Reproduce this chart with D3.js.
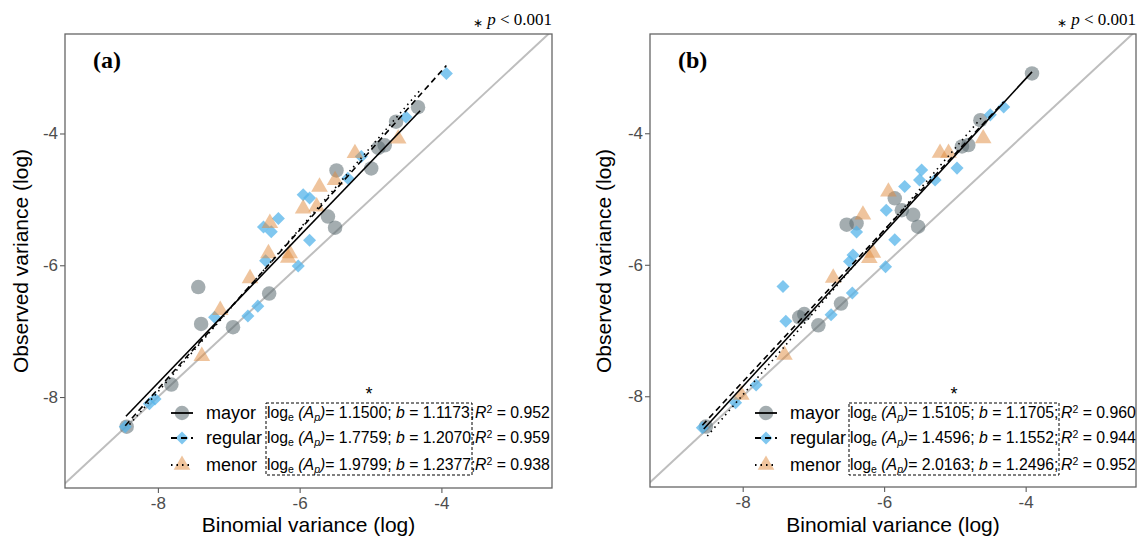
<!DOCTYPE html>
<html>
<head>
<meta charset="utf-8">
<script src="https://cdn.jsdelivr.net/npm/d3@7"></script>
<style>
  body { margin: 0; background: #fff; }
  svg { display: block; font-family: "Liberation Sans", Arial, sans-serif; }
  .tick text { fill: #4d4d4d; font-size: 17px; }
  .tick line { stroke: #4d4d4d; }
</style>
</head>
<body>
<svg id="chart" width="1140" height="539"></svg>
<script>
// ---- data (log scale) ----
var seriesNames = ["mayor", "regular", "menor"];
var xTicks = [-8, -6, -4];
var yTicks = [-8, -6, -4];
var panelLabels = ["(a)", "(b)"];

// panel (a)
var mayorA = [[-4.33,-3.60],[-4.64,-3.82],[-4.80,-4.18],[-4.89,-4.22],[-4.99,-4.53],[-5.48,-4.56],
  [-5.60,-5.26],[-5.50,-5.43],[-7.43,-6.33],[-7.39,-6.89],[-6.43,-6.43],[-6.94,-6.94],[-7.81,-7.81],[-8.44,-8.45]];
var regularA = [[-3.93,-3.09],[-4.50,-3.75],[-5.13,-4.35],[-5.32,-4.68],[-5.95,-4.93],[-5.86,-4.98],
  [-6.30,-5.29],[-6.51,-5.42],[-6.40,-5.49],[-5.86,-5.62],[-6.48,-5.93],[-6.02,-6.01],[-6.59,-6.62],
  [-6.73,-6.77],[-7.20,-6.79],[-8.04,-8.03],[-8.46,-8.45],[-8.12,-8.10]];
var menorA = [[-4.61,-4.08],[-5.22,-4.30],[-5.72,-4.81],[-5.50,-4.71],[-5.95,-5.14],[-5.76,-5.11],
  [-6.42,-5.36],[-6.44,-5.82],[-6.14,-5.82],[-6.16,-5.89],[-6.70,-6.20],[-7.12,-6.68],[-7.38,-7.38]];
var interceptA = [1.1500, 1.7759, 1.9799];
var slopeA = [1.1173, 1.2070, 1.2377];
var r2A = [0.952, 0.959, 0.938];
var fitRangeA = [[-8.45, -4.30], [-8.46, -3.93], [-8.40, -4.30]];

// panel (b)
var mayorB = [[-3.91,-3.09],[-4.64,-3.80],[-4.81,-4.18],[-4.90,-4.20],[-5.85,-4.99],[-5.75,-5.17],
  [-5.59,-5.24],[-5.52,-5.42],[-6.53,-5.39],[-6.39,-5.37],[-7.20,-6.80],[-7.13,-6.75],[-6.93,-6.92],
  [-6.61,-6.59],[-8.52,-8.46]];
var regularB = [[-4.31,-3.60],[-4.50,-3.72],[-4.97,-4.53],[-5.47,-4.56],[-5.50,-4.71],[-5.71,-4.81],
  [-5.97,-5.17],[-5.28,-4.71],[-6.39,-5.50],[-5.85,-5.62],[-7.43,-6.33],[-7.39,-6.86],[-6.45,-6.43],
  [-6.75,-6.76],[-5.98,-6.03],[-6.44,-5.85],[-6.49,-5.95],[-7.81,-7.83],[-8.10,-8.10],[-8.57,-8.48]];
var menorB = [[-4.60,-4.08],[-5.21,-4.30],[-5.09,-4.30],[-5.94,-4.89],[-6.30,-5.24],[-6.16,-5.82],
  [-6.21,-5.90],[-6.72,-6.20],[-7.41,-7.37],[-8.02,-7.98]];
var interceptB = [1.5105, 1.4596, 2.0163];
var slopeB = [1.1705, 1.1552, 1.2496];
var r2B = [0.960, 0.944, 0.952];
var fitRangeB = [[-8.55, -3.91], [-8.57, -4.31], [-8.50, -4.60]];

// ---- styles ----
var colors = ["#5a6a70", "#56B4E9", "#E08A3C"];
var opacities = [0.55, 0.75, 0.5];
var symbols = [d3.symbolCircle, d3.symbolSquare, d3.symbolTriangle];
var symSizes = [165, 85, 120];
var symRotate = [0, 45, 0];
var dashes = [null, "6,4", "1.5,4"];

var svg = d3.select("#chart");

var panels = [
  { left: 65, right: 552, top: 34, bottom: 488, data: [mayorA, regularA, menorA],
    icpt: interceptA, slope: slopeA, r2: r2A, range: fitRangeA,
    keyX: 182, labelX: 206, boxL: 266, boxR: 472, rX: 475, yTitleX: 28 },
  { left: 650, right: 1136, top: 34, bottom: 487, data: [mayorB, regularB, menorB],
    icpt: interceptB, slope: slopeB, r2: r2B, range: fitRangeB,
    keyX: 766, labelX: 790, boxL: 849, boxR: 1059, rX: 1061, yTitleX: 611 }
];

panels.forEach(function(p, pi) {
  var g = svg.append("g");
  var x = d3.scaleLinear().domain([-9.31, -2.44]).range([p.left, p.right]);
  var y = d3.scaleLinear().domain([-9.38, -2.49]).range([p.bottom, p.top]);

  var clipId = "clip" + pi;
  g.append("clipPath").attr("id", clipId).append("rect")
    .attr("x", p.left).attr("y", p.top)
    .attr("width", p.right - p.left).attr("height", p.bottom - p.top);

  // axes
  g.append("g").attr("transform", "translate(0," + p.bottom + ")")
    .call(d3.axisBottom(x).tickValues(xTicks).tickSize(5).tickPadding(4).tickFormat(d3.format("d")))
    .call(function(a) { a.select(".domain").remove(); });
  g.append("g").attr("transform", "translate(" + p.left + ",0)")
    .call(d3.axisLeft(y).tickValues(yTicks).tickSize(5).tickPadding(2).tickFormat(d3.format("d")))
    .call(function(a) { a.select(".domain").remove(); });
  g.selectAll(".tick text").text(function(d) { return "-" + Math.abs(d); });

  var plot = g.append("g").attr("clip-path", "url(#" + clipId + ")");

  // 1:1 line
  var lo = -9.5, hi = -2.3;
  plot.append("line")
    .attr("x1", x(lo)).attr("y1", y(lo)).attr("x2", x(hi)).attr("y2", y(hi))
    .attr("stroke", "#bebebe").attr("stroke-width", 2);

  // points
  p.data.forEach(function(ser, si) {
    plot.selectAll(".pt" + si).data(ser).enter().append("path")
      .attr("class", "pt" + si)
      .attr("d", d3.symbol().type(symbols[si]).size(symSizes[si]))
      .attr("transform", function(d) {
        return "translate(" + x(d[0]) + "," + y(d[1]) + ") rotate(" + symRotate[si] + ")";
      })
      .attr("fill", colors[si]).attr("fill-opacity", opacities[si]);
  });

  // fitted lines: log(obs) = log(Ap) + b * log(bin)
  p.data.forEach(function(ser, si) {
    var r = p.range[si];
    plot.append("line")
      .attr("x1", x(r[0])).attr("y1", y(p.icpt[si] + p.slope[si] * r[0]))
      .attr("x2", x(r[1])).attr("y2", y(p.icpt[si] + p.slope[si] * r[1]))
      .attr("stroke", "#000").attr("stroke-width", 1.6)
      .attr("stroke-dasharray", dashes[si]);
  });

  // frame
  g.append("rect")
    .attr("x", p.left).attr("y", p.top)
    .attr("width", p.right - p.left).attr("height", p.bottom - p.top)
    .attr("fill", "none").attr("stroke", "#666").attr("stroke-width", 1.3);

  // panel label and p-value note
  g.append("text").attr("x", p.left + 28).attr("y", p.top + 34)
    .style("font-family", "Liberation Serif, serif").style("font-weight", "bold")
    .style("font-size", "24px").text(panelLabels[pi]);
  var note = g.append("text").attr("x", p.right).attr("y", 25).attr("text-anchor", "end")
    .style("font-family", "Liberation Serif, serif").style("font-size", "17px");
  note.append("tspan").attr("dy", 2).style("font-size", "12px").text("\u2217");
  note.append("tspan").attr("dy", -2).text(" ");
  note.append("tspan").style("font-style", "italic").text("p");
  note.append("tspan").text(" < 0.001");

  // axis titles
  g.append("text").attr("x", (p.left + p.right) / 2).attr("y", 532)
    .attr("text-anchor", "middle").style("font-size", "21px").text("Binomial variance (log)");
  g.append("text").attr("transform", "translate(" + p.yTitleX + "," + 261 + ") rotate(-90)")
    .attr("text-anchor", "middle").style("font-size", "21px").text("Observed variance (log)");

  // legend
  var rowY = [413, 438, 465];
  var leg = g.append("g");
  seriesNames.forEach(function(name, si) {
    leg.append("path")
      .attr("d", d3.symbol().type(symbols[si]).size(symSizes[si]))
      .attr("transform", "translate(" + p.keyX + "," + rowY[si] + ") rotate(" + symRotate[si] + ")")
      .attr("fill", colors[si]).attr("fill-opacity", opacities[si]);
    leg.append("line")
      .attr("x1", p.keyX - 11).attr("x2", p.keyX + 11)
      .attr("y1", rowY[si]).attr("y2", rowY[si])
      .attr("stroke", "#000").attr("stroke-width", 1.8)
      .attr("stroke-dasharray", dashes[si]);
    leg.append("text").attr("x", p.labelX).attr("y", rowY[si] + 6)
      .style("font-size", "18px").text(name);

    var eq = leg.append("text").attr("x", p.boxL + 1).attr("y", rowY[si] + 5)
      .style("font-size", "15.8px");
    eq.append("tspan").text("log");
    eq.append("tspan").attr("dy", 3).style("font-size", "10.5px").text("e");
    eq.append("tspan").attr("dy", -3).style("font-style", "italic").text(" (A");
    eq.append("tspan").attr("dy", 3).style("font-size", "10.5px").style("font-style", "italic").text("p");
    eq.append("tspan").attr("dy", -3).style("font-style", "italic").text(")");
    eq.append("tspan").text("= " + p.icpt[si].toFixed(4) + "; ");
    eq.append("tspan").style("font-style", "italic").text("b");
    eq.append("tspan").text(" = " + p.slope[si].toFixed(4) + ";");

    var rt = leg.append("text").attr("x", p.rX).attr("y", rowY[si] + 5)
      .style("font-size", "15.8px");
    rt.append("tspan").style("font-style", "italic").text("R");
    rt.append("tspan").attr("dy", -5).style("font-size", "10.5px").text("2");
    rt.append("tspan").attr("dy", 5).text(" = " + p.r2[si].toFixed(3));
  });
  leg.append("rect")
    .attr("x", p.boxL).attr("y", 403).attr("width", p.boxR - p.boxL).attr("height", 72)
    .attr("fill", "none").attr("stroke", "#000").attr("stroke-width", 1)
    .attr("stroke-dasharray", "3,2");
  leg.append("text").attr("x", (p.boxL + p.boxR) / 2).attr("y", 400)
    .attr("text-anchor", "middle").style("font-size", "18px").text("*");
});
</script>
</body>
</html>
